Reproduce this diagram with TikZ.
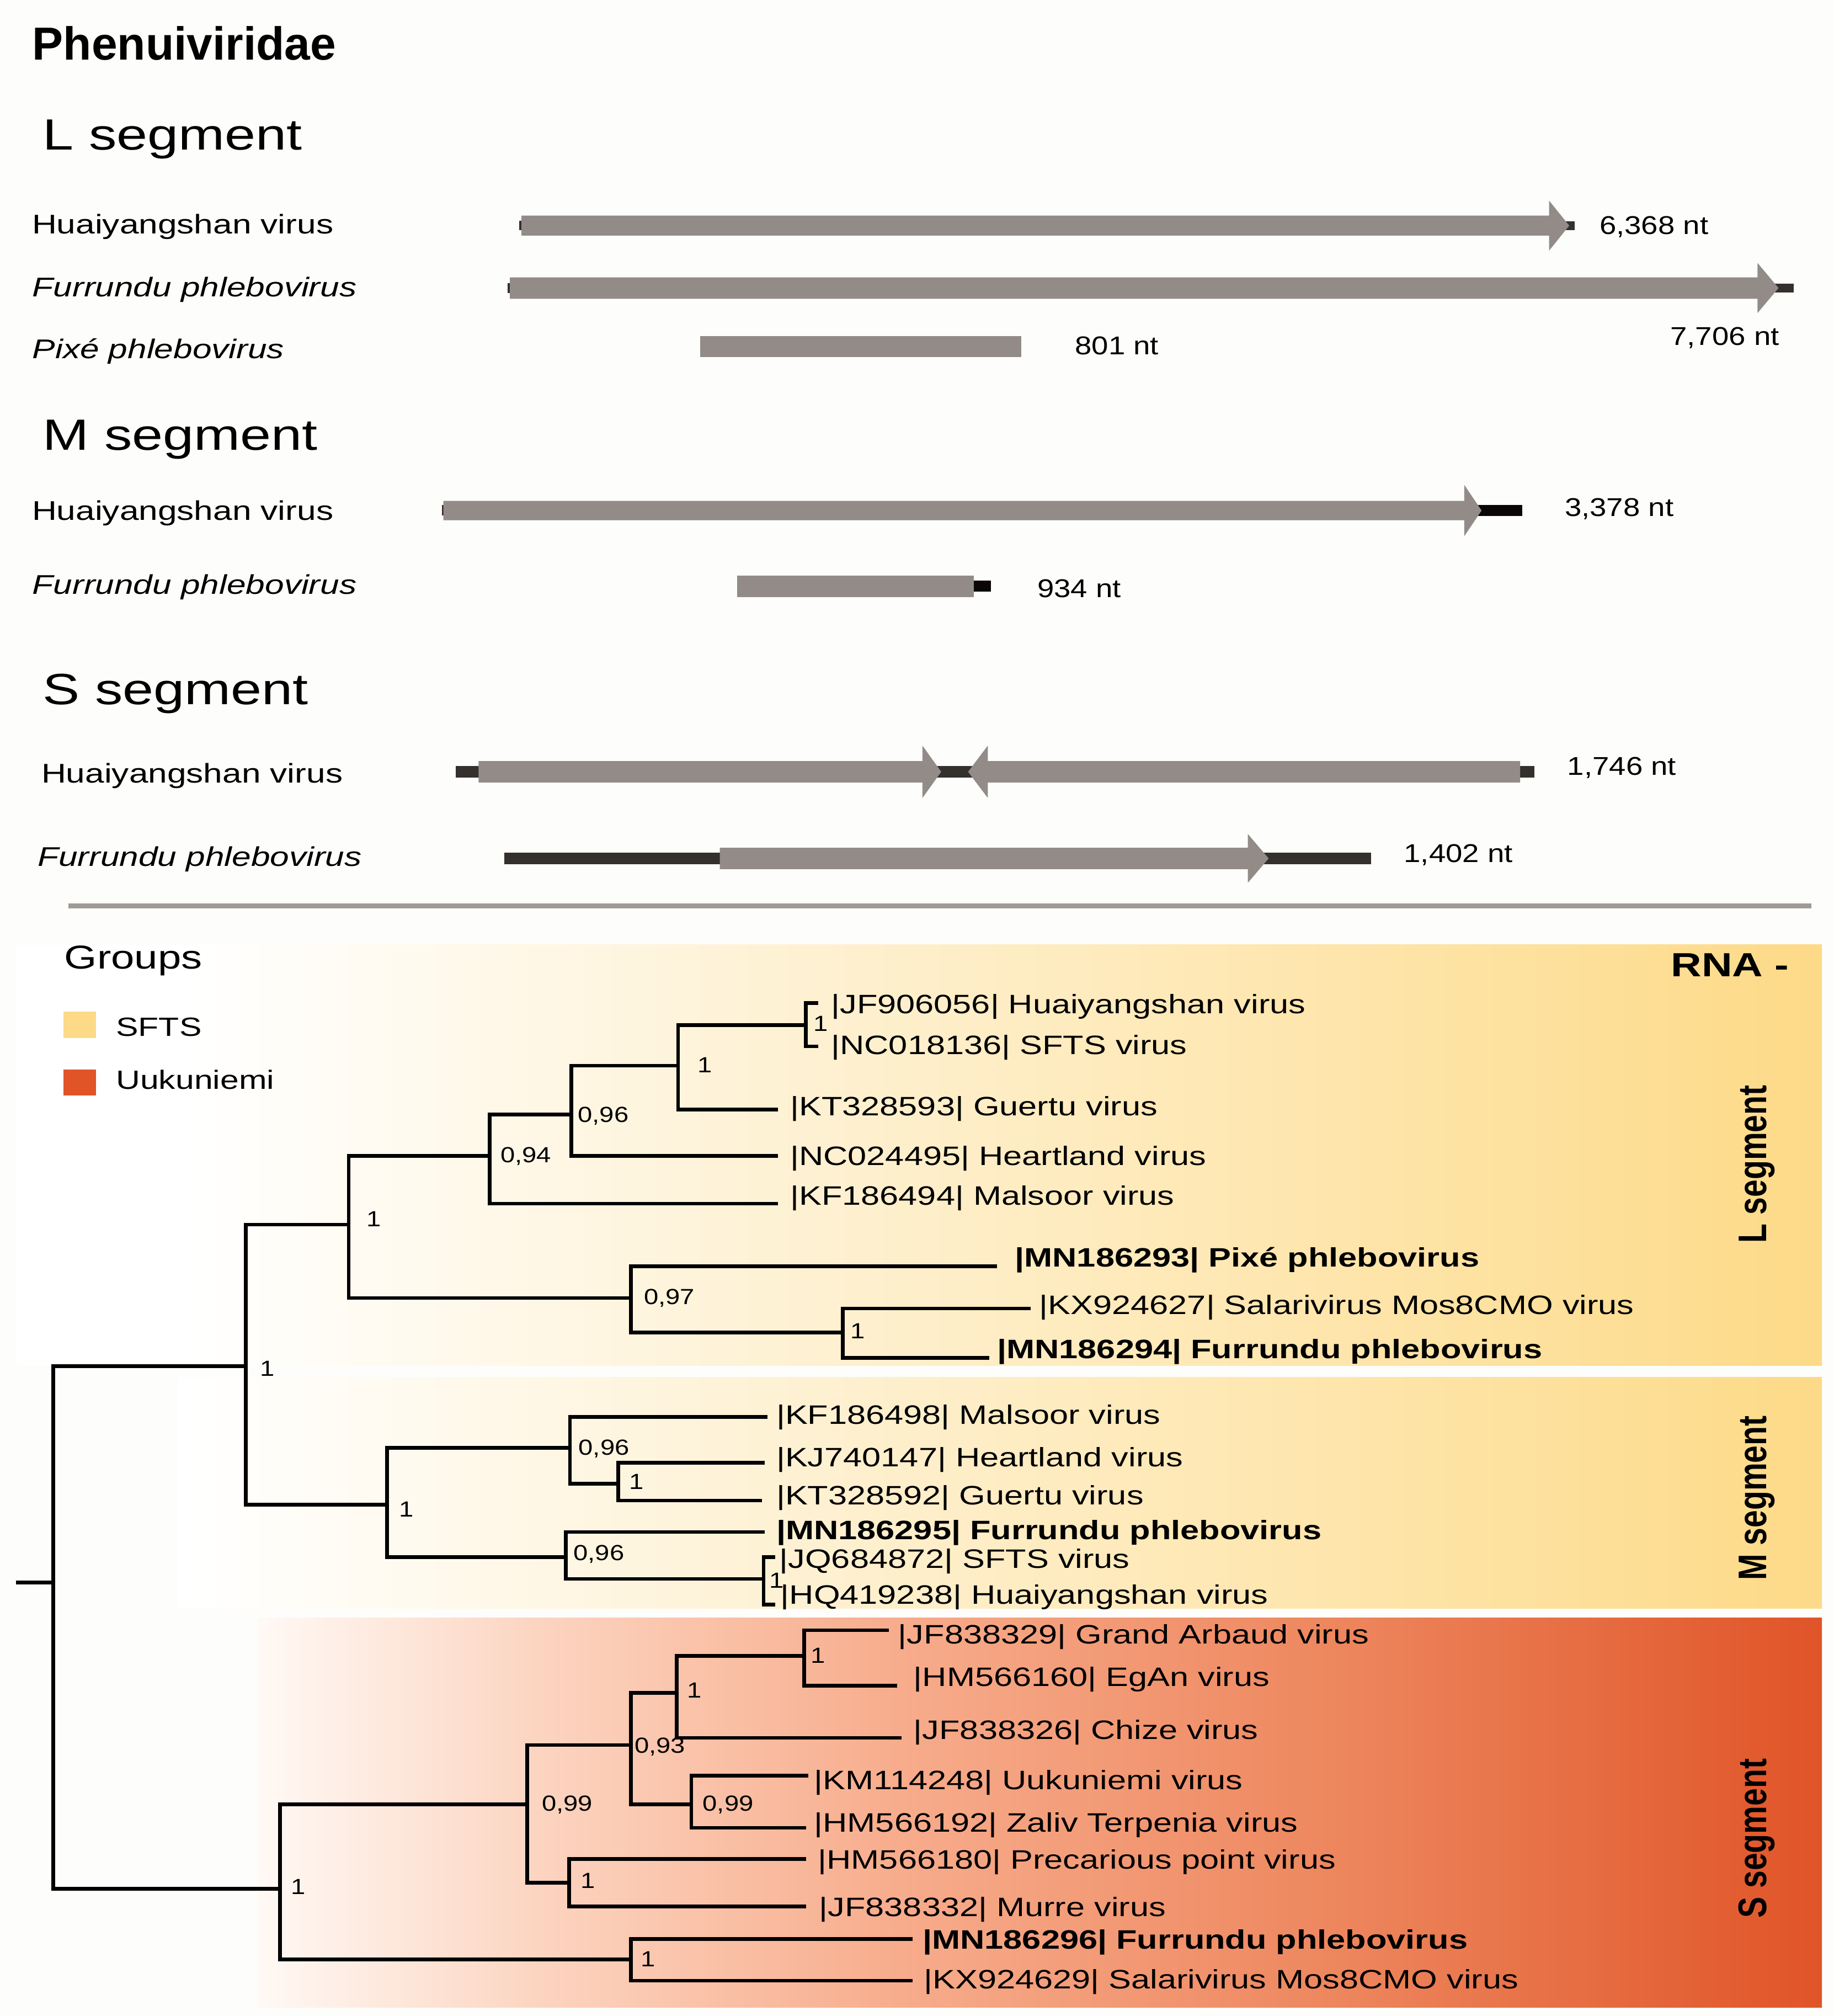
\documentclass[tikz,border=0pt]{standalone}
\usepackage{fontspec}
\setmainfont{Liberation Sans}[FakeStretch=1.27]
\newfontfamily\titlefont{Liberation Sans}
\newfontfamily\vertfont{Liberation Sans}[FakeStretch=0.79]
\newfontfamily\ntfont{Liberation Sans}[FakeStretch=1.17]
\newfontfamily\bsfont{Liberation Sans}[FakeStretch=1.19]
\definecolor{pagebg}{RGB}{253,253,251}
\definecolor{bargray}{RGB}{146,139,135}
\definecolor{bardark}{RGB}{51,48,45}
\definecolor{barblack}{RGB}{10,6,6}
\definecolor{sepgray}{RGB}{160,154,150}
\definecolor{sftsY}{RGB}{253,218,136}
\definecolor{uukR}{RGB}{224,84,40}
\definecolor{sA}{RGB}{255,249,245}
\definecolor{sB}{RGB}{252,212,192}
\definecolor{sC}{RGB}{247,172,140}
\definecolor{sD}{RGB}{237,133,92}
\begin{document}
\begin{tikzpicture}[x=1pt,y=-1pt,
  br/.style={line width=2.9pt, black},
  leaf/.style={anchor=base west, inner sep=0pt, yshift=-7.4pt, font=\fontsize{20.7}{24}\selectfont},
  leafb/.style={anchor=base west, inner sep=0pt, yshift=-7.4pt, font=\fontsize{20.7}{24}\selectfont\bfseries},
  bs/.style={anchor=base west, inner sep=0pt, yshift=-6.1pt, font=\bsfont\fontsize{17}{20}\selectfont},
  rowlab/.style={anchor=base west, inner sep=0pt, yshift=-7.5pt, font=\fontsize{21}{24}\selectfont},
  rowlabi/.style={anchor=base west, inner sep=0pt, yshift=-7.5pt, font=\fontsize{21}{24}\selectfont\itshape},
  seghead/.style={anchor=base west, inner sep=0pt, yshift=-12.2pt, font=\fontsize{34}{38}\selectfont},
  ntlab/.style={anchor=base west, inner sep=0pt, yshift=-7.2pt, font=\ntfont\fontsize{20}{24}\selectfont},
  vlab/.style={rotate=90, anchor=base, inner sep=0pt, font=\vertfont\bfseries\fontsize{31}{34}\selectfont},
  legtxt/.style={anchor=base west, inner sep=0pt, yshift=-7.3pt, font=\fontsize{20.5}{24}\selectfont}
]
\useasboundingbox (0,0) rectangle (1425,1566.5);
\fill[pagebg] (0,0) rectangle (1425,1566.5);

% ---------------- title and gene maps ----------------
\node[anchor=base west, inner sep=0pt, yshift=-12.9pt, font=\titlefont\bfseries\fontsize{36}{40}\selectfont] (title) at (25,33.8) {Phenuiviridae};

\node[seghead] (hL) at (33,104.2) {L segment};
\node[rowlab] (rL1) at (24.7,174.1) {Huaiyangshan virus};
\node[rowlabi] (rL2) at (25,223.1) {Furrundu phlebovirus};
\node[rowlabi] (rL3) at (25,270.9) {Pixé phlebovirus};

\node[seghead] (hM) at (33,337.5) {M segment};
\node[rowlab] (rM1) at (24.7,396.5) {Huaiyangshan virus};
\node[rowlabi] (rM2) at (25,454) {Furrundu phlebovirus};

\node[seghead] (hS) at (33,535) {S segment};
\node[rowlab] (rS1) at (32,600.7) {Huaiyangshan virus};
\node[rowlabi] (rS2) at (29,665.5) {Furrundu phlebovirus};

% L segment bars
\fill[bardark] (403.5,171.5) rectangle (406,179);
\fill[bardark] (1214,171.8) rectangle (1224,178.8);
\fill[bargray] (405.3,167.5) -- (1204,167.5) -- (1204,155.9) -- (1219.6,175.3) -- (1204,194.7) -- (1204,183.1) -- (405.3,183.1) -- cycle;
\fill[bardark] (394.5,219.8) rectangle (397,227.8);
\fill[bardark] (1378,220.3) rectangle (1394,227.3);
\fill[bargray] (396.3,215.5) -- (1366,215.5) -- (1366,204.4) -- (1382.3,223.8) -- (1366,243.2) -- (1366,232.1) -- (396.3,232.1) -- cycle;
\fill[bargray] (544,261.3) rectangle (793.7,277.3);
\node[ntlab] (ntL1) at (1243,175) {6,368 nt};
\node[ntlab] (ntL2) at (1298,261) {7,706 nt};
\node[ntlab] (ntL3) at (835.3,268.5) {801 nt};

% M segment bars
\fill[bardark] (343.5,392.5) rectangle (345.5,400.5);
\fill[barblack] (1148,392.5) rectangle (1183.3,401);
\fill[bargray] (344.6,389.2) -- (1138,389.2) -- (1138,376.7) -- (1151.5,396.7) -- (1138,416.7) -- (1138,404.2) -- (344.6,404.2) -- cycle;
\fill[barblack] (755,451.3) rectangle (770.2,459.8);
\fill[bargray] (573,447.3) rectangle (756.7,463.9);
\node[ntlab] (ntM1) at (1216,394) {3,378 nt};
\node[ntlab] (ntM2) at (806,457) {934 nt};

% S segment bars
\fill[bardark] (354.2,595.2) rectangle (373,604.2);
\fill[bardark] (725,595.2) rectangle (760,604.2);
\fill[bardark] (1180,595.2) rectangle (1192.4,604.2);
\fill[bargray] (372,591.4) -- (716.9,591.4) -- (716.9,579.3) -- (731.5,599.7) -- (716.9,620.1) -- (716.9,608) -- (372,608) -- cycle;
\fill[bargray] (1181.5,591.4) -- (767.8,591.4) -- (767.8,579.3) -- (752.4,599.7) -- (767.8,620.1) -- (767.8,608) -- (1181.5,608) -- cycle;
\fill[bardark] (392,662.5) rectangle (1065.6,671.5);
\fill[bargray] (559.4,658.7) -- (969.8,658.7) -- (969.8,648) -- (986,667) -- (969.8,686) -- (969.8,675.3) -- (559.4,675.3) -- cycle;
\node[ntlab] (ntS1) at (1218,595) {1,746 nt};
\node[ntlab] (ntS2) at (1091,663) {1,402 nt};

% separator
\coordinate (sepA) at (53,704);
\coordinate (sepB) at (1408,704);
\draw[sepgray, line width=4pt] (sepA) -- (sepB);

% ---------------- tree panels ----------------
\fill[white] (13,734) rectangle (150.5,1061);
\shade[left color=white, right color=sftsY] (150,734) rectangle (1416,1061);
\fill[white] (138,1070) rectangle (150.5,1250);
\shade[left color=white, right color=sftsY] (150,1070) rectangle (1416,1250);
\shade[left color=sA, right color=sB] (200,1257) rectangle (420.6,1560);
\shade[left color=sB, right color=sC] (420,1257) rectangle (700.6,1560);
\shade[left color=sC, right color=sD] (700,1257) rectangle (1050.6,1560);
\shade[left color=sD, right color=uukR] (1050,1257) rectangle (1416,1560);

% legend
\node[anchor=base west, inner sep=0pt, yshift=-9.3pt, font=\fontsize{25.7}{30}\selectfont] (groups) at (49.9,743.4) {Groups};
\fill[sftsY] (49.2,786) rectangle (74.8,806.4);
\fill[uukR] (49.2,831) rectangle (74.8,851);
\node[legtxt] (legS) at (90,798) {SFTS};
\node[legtxt] (legU) at (90,839) {Uukuniemi};

\node[anchor=base west, inner sep=0pt, yshift=-9.3pt, font=\fontsize{26}{30}\selectfont\bfseries] (rna) at (1298.5,749.5) {RNA -};
\node[vlab] (vL) at (1372.7,904.5) {L segment};
\node[vlab] (vM) at (1372.7,1164) {M segment};
\node[vlab] (vS) at (1372.7,1428.5) {S segment};

% internal nodes
\coordinate (rootstub) at (12.6,1229.7);
\coordinate (root) at (41.5,1229.7);
\coordinate (nLM) at (191,1061.7);
\coordinate (nL) at (271,951.6);
\coordinate (n094) at (380.6,898);
\coordinate (n096a) at (444,866);
\coordinate (n1a) at (527,828);
\coordinate (n1b) at (626.2,796.5);
\coordinate (n097) at (490.5,1008.6);
\coordinate (n1c) at (655,1035.4);
\coordinate (nM) at (300.8,1169.3);
\coordinate (n096b) at (443,1124.9);
\coordinate (n1d) at (480.6,1152.8);
\coordinate (n096c) at (439.8,1210);
\coordinate (n1e) at (593.5,1226.9);
\coordinate (nS) at (217.5,1467.5);
\coordinate (n099a) at (409.7,1401.9);
\coordinate (n093) at (490.4,1355.9);
\coordinate (n1f) at (525.8,1315.3);
\coordinate (n1i) at (625.1,1286.7);
\coordinate (n099b) at (537.3,1401.9);
\coordinate (n1g) at (442.2,1462.8);
\coordinate (n1h) at (490.4,1522.6);

% tips
\coordinate (t1) at (636,779.5);
\coordinate (t2) at (636,813);
\coordinate (t3) at (604.8,862);
\coordinate (t4) at (604.8,898);
\coordinate (t5) at (604.8,935.3);
\coordinate (t6) at (774.8,983.9);
\coordinate (t7) at (801,1016.7);
\coordinate (t8) at (768.9,1055);
\coordinate (t9) at (596.6,1101);
\coordinate (t10) at (594.3,1136.5);
\coordinate (t11) at (592.4,1166);
\coordinate (t12) at (594.3,1190.4);
\coordinate (t13) at (602.5,1209.9);
\coordinate (t14) at (602.5,1246.7);
\coordinate (t15) at (690.7,1266.7);
\coordinate (t16) at (697.3,1309.8);
\coordinate (t17) at (700.9,1350.4);
\coordinate (t18) at (628.1,1379.7);
\coordinate (t19) at (626.6,1420.3);
\coordinate (t20) at (626.6,1444.4);
\coordinate (t21) at (626.6,1481.5);
\coordinate (t22) at (709.3,1506.7);
\coordinate (t23) at (709.3,1539);

% branches
\draw[br] (rootstub) -- (root);
\draw[br] (root) |- (nLM);
\draw[br] (root) |- (nS);
\draw[br] (nLM) |- (nL);
\draw[br] (nLM) |- (nM);
\draw[br] (nL) |- (n094);
\draw[br] (nL) |- (n097);
\draw[br] (n094) |- (n096a);
\draw[br] (n094) |- (t5);
\draw[br] (n096a) |- (n1a);
\draw[br] (n096a) |- (t4);
\draw[br] (n1a) |- (n1b);
\draw[br] (n1a) |- (t3);
\draw[br] (n1b) |- (t1);
\draw[br] (n1b) |- (t2);
\draw[br] (n097) |- (t6);
\draw[br] (n097) |- (n1c);
\draw[br] (n1c) |- (t7);
\draw[br] (n1c) |- (t8);
\draw[br] (nM) |- (n096b);
\draw[br] (nM) |- (n096c);
\draw[br] (n096b) |- (t9);
\draw[br] (n096b) |- (n1d);
\draw[br] (n1d) |- (t10);
\draw[br] (n1d) |- (t11);
\draw[br] (n096c) |- (t12);
\draw[br] (n096c) |- (n1e);
\draw[br] (n1e) |- (t13);
\draw[br] (n1e) |- (t14);
\draw[br] (nS) |- (n099a);
\draw[br] (nS) |- (n1h);
\draw[br] (n099a) |- (n093);
\draw[br] (n099a) |- (n1g);
\draw[br] (n093) |- (n1f);
\draw[br] (n093) |- (n099b);
\draw[br] (n1f) |- (n1i);
\draw[br] (n1f) |- (t17);
\draw[br] (n1i) |- (t15);
\draw[br] (n1i) |- (t16);
\draw[br] (n099b) |- (t18);
\draw[br] (n099b) |- (t19);
\draw[br] (n1g) |- (t20);
\draw[br] (n1g) |- (t21);
\draw[br] (n1h) |- (t22);
\draw[br] (n1h) |- (t23);

% leaf labels
\node[leaf] (l1) at (645.8,780.3) {|JF906056| Huaiyangshan virus};
\node[leaf] (l2) at (645.8,811.8) {|NC018136| SFTS virus};
\node[leaf] (l3) at (614,859.3) {|KT328593| Guertu virus};
\node[leaf] (l4) at (614,898) {|NC024495| Heartland virus};
\node[leaf] (l5) at (614,929) {|KF186494| Malsoor virus};
\node[leafb] (l6) at (788.6,977) {|MN186293| Pixé phlebovirus};
\node[leaf] (l7) at (807.6,1014) {|KX924627| Salarivirus Mos8CMO virus};
\node[leafb] (l8) at (774.8,1048) {|MN186294| Furrundu phlebovirus};
\node[leaf] (l9) at (603.2,1099) {|KF186498| Malsoor virus};
\node[leaf] (l10) at (603.2,1132) {|KJ740147| Heartland virus};
\node[leaf] (l11) at (603.2,1161.7) {|KT328592| Guertu virus};
\node[leafb] (l12) at (603.2,1189) {|MN186295| Furrundu phlebovirus};
\node[leaf] (l13) at (605.6,1211) {|JQ684872| SFTS virus};
\node[leaf] (l14) at (606.5,1239) {|HQ419238| Huaiyangshan virus};
\node[leaf] (l15) at (697.9,1270) {|JF838329| Grand Arbaud virus};
\node[leaf] (l16) at (709.9,1303) {|HM566160| EgAn virus};
\node[leaf] (l17) at (709.9,1344) {|JF838326| Chize virus};
\node[leaf] (l18) at (632.6,1383) {|KM114248| Uukuniemi virus};
\node[leaf] (l19) at (632.6,1416) {|HM566192| Zaliv Terpenia virus};
\node[leaf] (l20) at (635.6,1445) {|HM566180| Precarious point virus};
\node[leaf] (l21) at (636.5,1481.6) {|JF838332| Murre virus};
\node[leafb] (l22) at (716.9,1507) {|MN186296| Furrundu phlebovirus};
\node[leaf] (l23) at (717.8,1538) {|KX924629| Salarivirus Mos8CMO virus};

% support values
\node[bs] (b1b) at (632,795) {1};
\node[bs] (b1a) at (542,827.5) {1};
\node[bs] (b096a) at (449,866) {0,96};
\node[bs] (b094) at (388.8,897) {0,94};
\node[bs] (bL) at (284.8,946.8) {1};
\node[bs] (b097) at (500.4,1007.5) {0,97};
\node[bs] (b1c) at (661,1034) {1};
\node[bs] (bLM) at (201.8,1063.3) {1};
\node[bs] (b096b) at (449.5,1124.6) {0,96};
\node[bs] (b1d) at (488.9,1150.9) {1};
\node[bs] (bM) at (310,1172.5) {1};
\node[bs] (b096c) at (445.6,1206.6) {0,96};
\node[bs] (b1e) at (598,1228) {1};
\node[bs] (b1i) at (630,1286) {1};
\node[bs] (b1f) at (534,1313) {1};
\node[bs] (b093) at (493,1356) {0,93};
\node[bs] (b099b) at (546,1401) {0,99};
\node[bs] (b099a) at (421,1401) {0,99};
\node[bs] (b1g) at (451,1461) {1};
\node[bs] (bS) at (226,1466) {1};
\node[bs] (b1h) at (498,1522) {1};
\end{tikzpicture}
\end{document}
